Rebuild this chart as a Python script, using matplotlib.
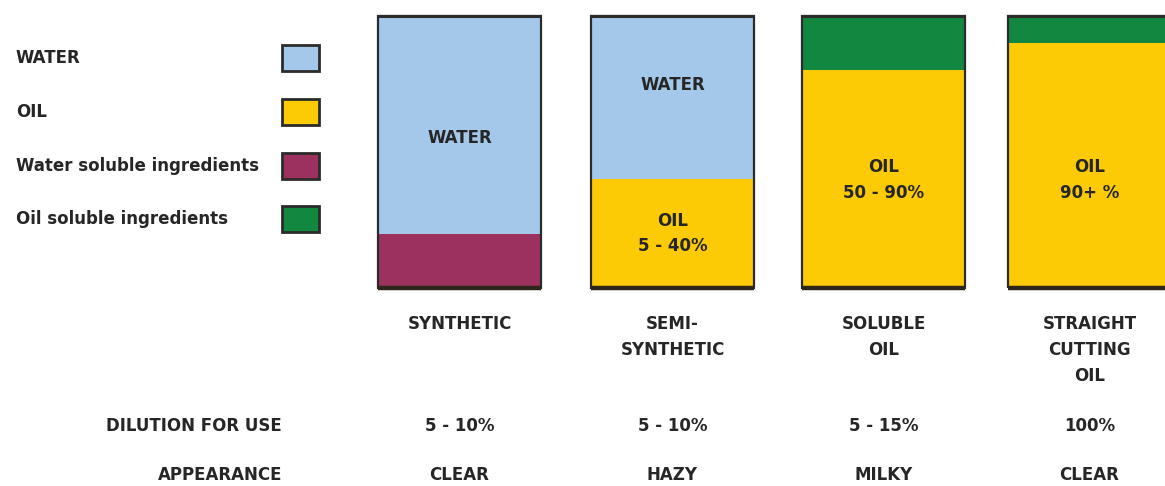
import matplotlib
matplotlib.use("Agg")
import matplotlib.pyplot as plt
from matplotlib.patches import Rectangle

plt.rcParams['font.family'] = ['DejaVu Sans']

# ---- data ----
categories = ["SYNTHETIC", "SEMI-\nSYNTHETIC", "SOLUBLE\nOIL", "STRAIGHT\nCUTTING\nOIL"]
water = [80, 60, 0, 0]
oil = [0, 40, 80, 90]
water_soluble = [20, 0, 0, 0]
oil_soluble = [0, 0, 20, 10]
dilution = ["5 - 10%", "5 - 10%", "5 - 15%", "100%"]
appearance = ["CLEAR", "HAZY", "MILKY", "CLEAR"]
legend_labels = ["WATER", "OIL", "Water soluble ingredients", "Oil soluble ingredients"]
bar_texts = [
    [("WATER", 55)],
    [("WATER", 74.5), ("OIL", 24.5), ("5 - 40%", 15.5)],
    [("OIL", 44.5), ("50 - 90%", 35)],
    [("OIL", 44.5), ("90+ %", 35)],
]

# ---- style / layout ----
C_WATER = "#a3c8ea"
C_OIL = "#fdcb06"
C_WSOL = "#9c3160"
C_OSOL = "#12873f"
EDGE = "#2b2b2b"
TXT = "#262626"
W, H = 1165, 486
left_edges = [378, 591, 802, 1008]
bar_w = 163
FS = 12

fig = plt.figure(figsize=(W / 100, H / 100), dpi=100)
fig.patch.set_facecolor("white")

y_top, y_bot = 16, 288
ax = fig.add_axes([0, (H - y_bot) / H, 1, (y_bot - y_top) / H])
ax.set_xlim(0, W)
ax.set_ylim(0, 100)
ax.axis("off")

centers = [l + bar_w / 2 for l in left_edges]
bottom = [0, 0, 0, 0]
for vals, col in [(water_soluble, C_WSOL), (oil, C_OIL), (water, C_WATER), (oil_soluble, C_OSOL)]:
    ax.bar(centers, vals, width=bar_w, bottom=bottom, color=col, linewidth=0, clip_on=False)
    bottom = [b + v for b, v in zip(bottom, vals)]

# outlines
ax.bar(centers, bottom, width=bar_w, fill=False, edgecolor=EDGE, linewidth=1.6, clip_on=False)
for c in centers:
    ax.plot([c - bar_w / 2, c + bar_w / 2], [0, 0], color="#2e2618", lw=3.2,
            solid_capstyle="butt", clip_on=False)
    ax.plot([c - bar_w / 2, c + bar_w / 2], [100, 100], color=EDGE, lw=2.2,
            solid_capstyle="butt", clip_on=False)

for c, texts in zip(centers, bar_texts):
    for t, yv in texts:
        ax.text(c, yv, t, ha="center", va="center", fontsize=FS, fontweight="bold", color=TXT)


def fy(py):
    return 1 - py / H


def fx(px):
    return px / W


# category labels
for c, lab in zip(centers, categories):
    for i, line in enumerate(lab.split("\n")):
        fig.text(fx(c), fy(324 + 26 * i), line, ha="center", va="center", fontsize=FS,
                 fontweight="bold", color=TXT)

# rows
fig.text(fx(282), fy(426), "DILUTION FOR USE", ha="right", va="center", fontsize=FS,
         fontweight="bold", color=TXT)
fig.text(fx(282), fy(475), "APPEARANCE", ha="right", va="center", fontsize=FS,
         fontweight="bold", color=TXT)
for c, d, a in zip(centers, dilution, appearance):
    fig.text(fx(c), fy(426), d, ha="center", va="center", fontsize=FS, fontweight="bold", color=TXT)
    fig.text(fx(c), fy(475), a, ha="center", va="center", fontsize=FS, fontweight="bold", color=TXT)

# legend
leg_y = [58, 112, 166, 219]
for lab, col, yy in zip(legend_labels, [C_WATER, C_OIL, C_WSOL, C_OSOL], leg_y):
    fig.text(fx(16), fy(yy), lab, ha="left", va="center", fontsize=FS, fontweight="bold", color=TXT)
    fig.patches.append(Rectangle((fx(282), fy(yy + 13)), 37 / W, 26 / H, transform=fig.transFigure,
                                 facecolor=col, edgecolor=EDGE, linewidth=2.0))

fig.savefig("out.png", dpi=100, facecolor="white")
